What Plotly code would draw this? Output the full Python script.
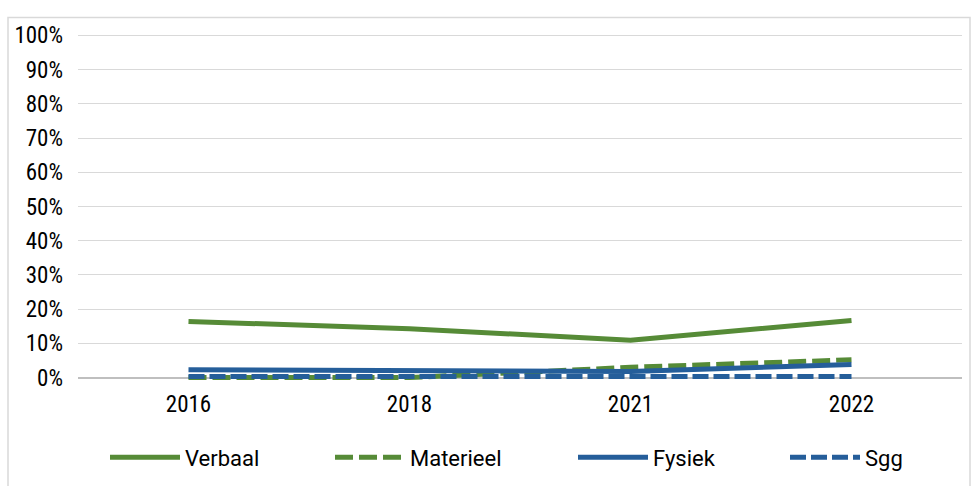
import plotly.graph_objects as go

years = ["2016", "2018", "2021", "2022"]
verbaal = [0.164, 0.143, 0.109, 0.167]
materieel = [0.0, 0.0, 0.030, 0.052]
fysiek = [0.023, 0.021, 0.018, 0.038]
sgg = [0.003, 0.003, 0.003, 0.003]
y_ticks = [i / 10 for i in range(11)]

green = "#568B37"
blue = "#255E9A"
tick_font = "Roboto Condensed, Roboto, sans-serif"
legend_font = "Roboto, sans-serif"

L, W = 78, 884
T, B = 31.57, 104.57
H = 486 - T - B


def px_to_paper_x(p):
    return (p - L) / W


def px_to_paper_y(p):
    return (486 - B - p) / H


fig = go.Figure()
fig.add_trace(go.Scatter(x=years, y=verbaal, name="Verbaal", mode="lines",
                         line=dict(color=green, width=5), legend="legend"))
fig.add_trace(go.Scatter(x=years, y=materieel, name="Materieel", mode="lines",
                         line=dict(color=green, width=5, dash="18px,6px"),
                         legend="legend2"))
fig.add_trace(go.Scatter(x=years, y=fysiek, name="Fysiek", mode="lines",
                         line=dict(color=blue, width=5), legend="legend3"))
fig.add_trace(go.Scatter(x=years, y=sgg, name="Sgg", mode="lines",
                         line=dict(color=blue, width=5, dash="16px,5px"),
                         legend="legend4"))

fig.add_shape(type="rect", xref="paper", yref="paper",
              x0=px_to_paper_x(8), x1=px_to_paper_x(970),
              y0=px_to_paper_y(500), y1=px_to_paper_y(17),
              line=dict(color="#d9d9d9", width=1.5), fillcolor="rgba(0,0,0,0)",
              layer="below")


def leg(x_px):
    return dict(orientation="h", x=px_to_paper_x(x_px - 6), xanchor="left",
                y=px_to_paper_y(458), yanchor="middle", itemwidth=70,
                font=dict(family=legend_font, size=22, color="#000000"),
                bgcolor="rgba(0,0,0,0)")


fig.update_layout(
    width=978, height=486,
    margin=dict(l=L, r=978 - L - W, t=T, b=B, autoexpand=False),
    paper_bgcolor="white", plot_bgcolor="white",
    font=dict(family=tick_font, size=23, color="#000000"),
    showlegend=True,
    legend=leg(111), legend2=leg(336), legend3=leg(579), legend4=leg(791),
    xaxis=dict(type="category", range=[-0.5, 3.5], showgrid=False,
               showline=False, ticks="", ticklabelstandoff=7,
               tickfont=dict(size=23)),
    yaxis=dict(range=[-0.01, 1.01], tickvals=y_ticks, tickformat=".0%",
               showgrid=True, gridcolor="#d9d9d9", gridwidth=1,
               zeroline=True, zerolinecolor="#bfbfbf", zerolinewidth=1.5,
               showline=False, ticks="", ticklabelstandoff=14,
               tickfont=dict(size=23)),
)

fig.write_html("out.html", config={"displayModeBar": False},
               post_script="document.body.style.margin='0';")
